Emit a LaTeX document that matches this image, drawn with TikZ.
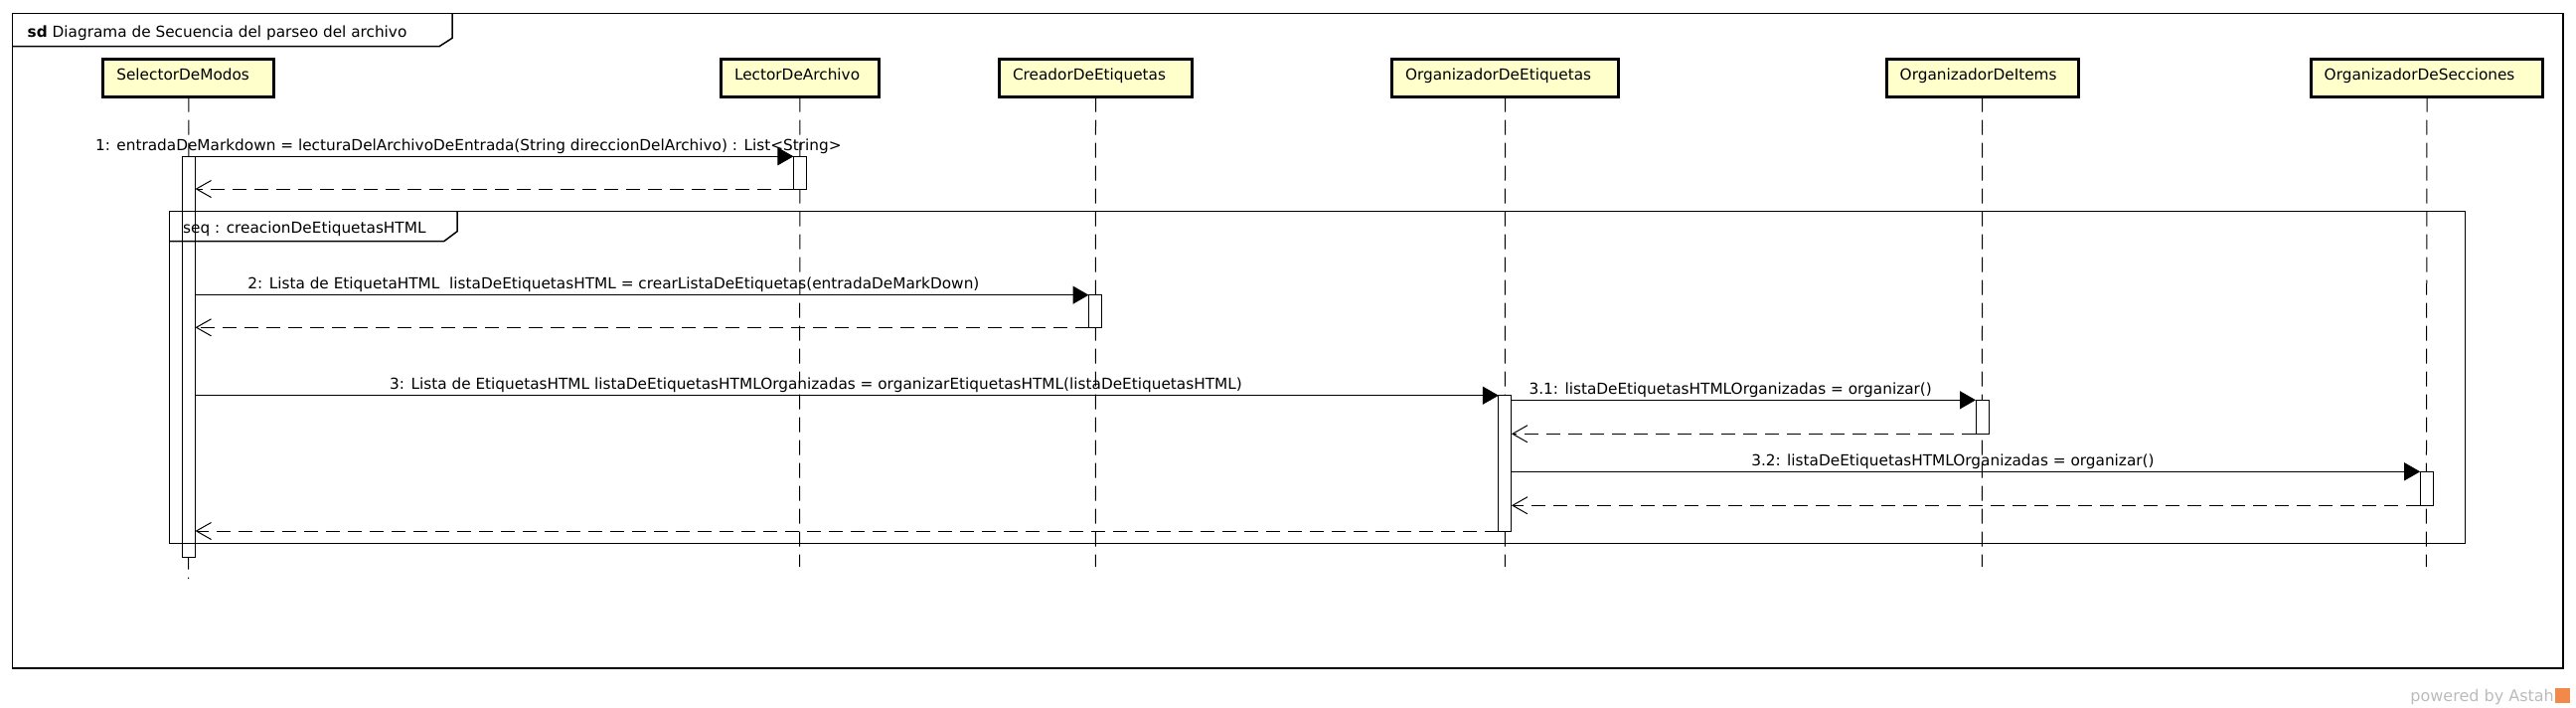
\documentclass[tikz,border=0pt]{standalone}
\usepackage{fontspec}
\setmainfont{DejaVu Sans}
\usetikzlibrary{arrows.meta}
\definecolor{headfill}{HTML}{FFFFCC}
\definecolor{wmgray}{HTML}{BBBBBB}
\definecolor{astahorange}{HTML}{F2884A}
\begin{document}
\begin{tikzpicture}[x=1pt,y=-1pt,
  font=\fontsize{15.3}{18}\selectfont,
  headbox/.style={draw, line width=3pt, fill=headfill, anchor=north west,
    minimum height=37.7pt, inner xsep=13.5pt, inner ysep=0pt, align=left,
    text height=12pt, text depth=7.9pt, outer sep=0pt},
  actbox/.style={draw, line width=1pt, fill=white, anchor=north,
    minimum width=13pt, inner sep=0pt, outer sep=0pt},
  framebox/.style={draw, line width=1.3pt, anchor=north west, inner sep=0pt, outer sep=0pt},
  tabline/.style={line width=1.5pt},
  lifeline/.style={line width=1pt, dash pattern=on 15pt off 8pt},
  msg/.style={line width=1pt, -{Triangle[length=16pt,width=18pt]}},
  ret/.style={line width=1pt, dash pattern=on 14pt off 8pt,
    -{Straight Barb[length=15pt,width=17pt,line width=1pt]}},
  lbl/.style={inner sep=0pt, anchor=base}
]
\useasboundingbox (0,0) rectangle (2592,712);

% outer frame
\node[framebox, minimum width=2566.4pt, minimum height=658.7pt] (frame) at (12.6,13.3) {};
\draw[tabline] ([yshift=-33.4pt]frame.north west) -- ++(429.4,0) -- ++(13,-8.4) -- ++(0,-25);
\node[lbl, anchor=base west] (sdlbl) at (27.5,37) {\textbf{sd} Diagrama de Secuencia del parseo del archivo};

% lifeline heads
\node[headbox, text width=145pt]   (sel)  at (103.8,59.8)  {SelectorDeModos};
\node[headbox, text width=131.7pt] (lec)  at (725.5,59.8)  {LectorDeArchivo};
\node[headbox, text width=167pt]   (cre)  at (1005.5,59.8) {CreadorDeEtiquetas};
\node[headbox, text width=201pt]   (orge) at (1400.5,59.8) {OrganizadorDeEtiquetas};
\node[headbox, text width=165.9pt] (orgi) at (1898.2,59.8) {OrganizadorDeItems};
\node[headbox, text width=206.6pt] (orgs) at (2325.2,59.8) {OrganizadorDeSecciones};

% lifeline ends
\coordinate (selend)  at (189.5,582);
\coordinate (lecend)  at (804.6,570);
\coordinate (creend)  at (1102.3,570);
\coordinate (orgeend) at (1514.4,570);
\coordinate (orgiend) at (1994.3,570);
\coordinate (orgsend) at (2441.3,570);

\draw[lifeline] (sel.south)  -- (selend);
\draw[lifeline] (lec.south)  -- (lecend);
\draw[lifeline] (cre.south)  -- (creend);
\draw[lifeline] (orge.south) -- (orgeend);
\draw[lifeline] (orgi.south) -- (orgiend);
\draw[lifeline] (orgs.south) -- (orgsend);

% activations
\node[actbox, minimum height=403pt] (sa) at (190,157.7)   {};
\node[actbox, minimum height=32.7pt] (la) at (804.9,157.3) {};
\node[actbox, minimum height=32.6pt] (ca) at (1102,296.7)  {};
\node[actbox, minimum height=136.3pt] (ea) at (1514.4,397.7) {};
\node[actbox, minimum height=34pt] (ia) at (1994.5,402.3) {};
\node[actbox, minimum height=34pt] (xa) at (2441.7,474.3) {};

% combined fragment (drawn over the activations)
\node[framebox, line width=1pt, minimum width=2310pt, minimum height=333.7pt] (seq) at (170,212.3) {};
\draw[tabline] ([yshift=-30.4pt]seq.north west) -- ++(276.7,0) -- ++(13.3,-10) -- ++(0,-20.4);
\node[lbl, anchor=base west] (seqlbl) at (184,234) {seq : creacionDeEtiquetasHTML};

% messages
\draw[msg] (sa.east |- la.north west) -- (la.north west);
\node[lbl] (m1) at (471.3,151.5) {1: entradaDeMarkdown = lecturaDelArchivoDeEntrada(String direccionDelArchivo) : List<String>};
\draw[ret] (la.south west) -- (sa.east |- la.south west);

\draw[msg] (sa.east |- ca.north west) -- (ca.north west);
\node[lbl] (m2) at (617.4,290.7) {2: Lista de EtiquetaHTML\ \ listaDeEtiquetasHTML = crearListaDeEtiquetas(entradaDeMarkDown)};
\draw[ret] (ca.south west) -- (sa.east |- ca.south west);

\draw[msg] (sa.east |- ea.north west) -- (ea.north west);
\node[lbl, anchor=base west] (m3) at (392,391.7) {3: Lista de EtiquetasHTML listaDeEtiquetasHTMLOrganizadas = organizarEtiquetasHTML(listaDeEtiquetasHTML)};

\draw[msg] (ea.east |- ia.north west) -- (ia.north west);
\node[lbl] (m31) at (1741.2,396.3) {3.1: listaDeEtiquetasHTMLOrganizadas = organizar()};
\draw[ret] (ia.south west) -- (ea.east |- ia.south west);

\draw[msg] (ea.east |- xa.north west) -- (xa.north west);
\node[lbl] (m32) at (1964.9,468.8) {3.2: listaDeEtiquetasHTMLOrganizadas = organizar()};
\draw[ret] (xa.south west) -- (ea.east |- xa.south west);

\draw[ret] (ea.south west) -- (sa.east |- ea.south west);

% watermark
\node[lbl, anchor=base east, text=wmgray, font=\fontsize{16}{18}\selectfont] (wm) at (2570,705) {powered by Astah};
\node[fill=astahorange, minimum width=15pt, minimum height=15pt, inner sep=0pt, anchor=west] (logo) at (2571,699.5) {};
\end{tikzpicture}
\end{document}
